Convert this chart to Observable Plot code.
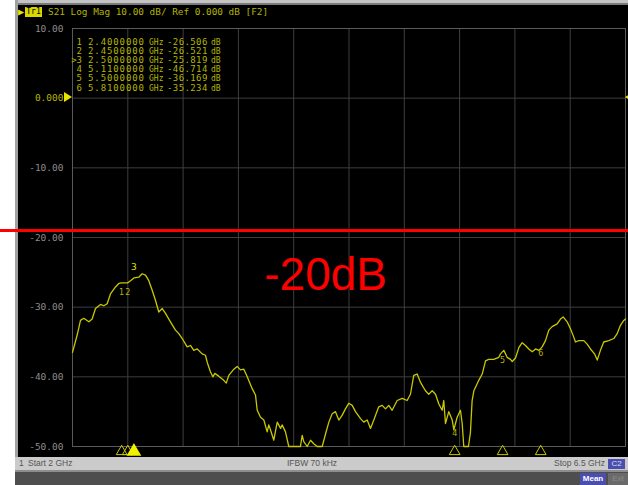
<!DOCTYPE html>
<html><head><meta charset="utf-8">
<script src="https://cdn.jsdelivr.net/npm/d3@7"></script>
<script src="https://cdn.jsdelivr.net/npm/@observablehq/plot@0.6"></script>
<style>
body{margin:0;background:#fff;}
#wrap{position:relative;width:628px;height:485px;overflow:hidden;background:#fff;}
.abs{position:absolute;white-space:pre;}
.mono{font-family:"DejaVu Sans Mono",monospace;}
.sans{font-family:"Liberation Sans",Arial,sans-serif;}
</style></head><body>
<div id="wrap">
  <div class="abs" style="left:15px;top:0;width:613px;height:3px;background:#c4c4c4"></div>
  <div class="abs" style="left:15px;top:3px;width:613px;height:2px;background:#7a7a7a"></div>
  <div class="abs" style="left:15px;top:0;width:3px;height:457px;background:#a0a0a0"></div>
  <div class="abs" style="left:18px;top:5px;width:610px;height:452px;background:#000"></div>
  <div id="title"></div>
  <div id="table"></div>
  <div class="abs" style="left:15px;top:457px;width:613px;height:13px;background:#cbcbcb"></div>
  <div class="abs" style="left:15px;top:470px;width:613px;height:2px;background:#8e8e8e"></div>
  <div class="abs" style="left:15px;top:472px;width:613px;height:13px;background:#4e4e4e"></div>
  <div id="status"></div>
</div>
<script>
// ---- data ----
const xTicks = [2.45, 2.9, 3.35, 3.8, 4.25, 4.7, 5.15, 5.6, 6.05];
const yTicks = [10, 0, -10, -20, -30, -40, -50];
const yTickLabels = ["10.00", "0.000", "-10.00", "-20.00", "-30.00", "-40.00", "-50.00"];
const refLevel = 0;
const redLevel = -19.1;
const annotText = ["-20dB"];
const annotPos = [[4.06, -25.4]];

const markerIds = ["1", "2", "3", "4", "5", "6"];
const markerFreq = [2.4, 2.45, 2.5, 5.11, 5.5, 5.81];
const markerVal = [-26.506, -26.521, -25.819, -46.714, -36.169, -35.234];
const markerFreqText = ["2.4000000", "2.4500000", "2.5000000", "5.1100000", "5.5000000", "5.8100000"];
const markerValText = ["-26.506", "-26.521", "-25.819", "-46.714", "-36.169", "-35.234"];
const activeMarker = "3";

const titleText = "S21 Log Mag 10.00 dB/ Ref 0.000 dB [F2]";
const traceName = "Tr1";
const statusLeft = "Start 2 GHz";
const statusMid = "IFBW 70 kHz";
const statusRight = "Stop 6.5 GHz";
const channel = "C2";

// trace: [frequency GHz, S21 dB]
const trace = [
 [2.0,-36.5],[2.038,-34.0],[2.065,-31.9],[2.092,-31.6],[2.133,-32.1],[2.160,-31.7],[2.187,-30.2],
 [2.228,-29.6],[2.255,-29.8],[2.282,-29.5],[2.309,-28.1],[2.350,-27.1],[2.377,-26.6],[2.400,-26.5],
 [2.450,-26.5],[2.472,-26.2],[2.500,-25.8],[2.539,-25.7],[2.567,-25.2],[2.594,-25.4],[2.621,-26.2],
 [2.649,-27.6],[2.675,-29.0],[2.702,-30.7],[2.730,-30.2],[2.757,-30.9],[2.797,-32.1],[2.838,-33.3],
 [2.865,-33.8],[2.893,-34.5],[2.933,-35.7],[2.960,-35.5],[2.987,-36.2],[3.015,-36.0],[3.055,-36.7],
 [3.082,-36.9],[3.096,-37.9],[3.123,-39.3],[3.142,-40.0],[3.158,-39.5],[3.190,-39.9],[3.231,-40.5],
 [3.251,-40.9],[3.272,-39.8],[3.313,-38.9],[3.340,-38.5],[3.367,-39.0],[3.394,-38.9],[3.422,-40.0],
 [3.462,-41.7],[3.489,-42.6],[3.503,-44.8],[3.530,-45.8],[3.557,-46.2],[3.584,-47.9],[3.597,-46.9],
 [3.611,-47.6],[3.638,-49.1],[3.666,-46.5],[3.693,-47.4],[3.706,-46.9],[3.733,-47.9],[3.760,-50],
 [3.815,-50],[3.855,-50],[3.869,-48.4],[3.882,-49.3],[3.910,-50],[3.937,-49.1],[3.963,-49.6],
 [3.991,-50],[4.032,-50],[4.059,-48.2],[4.086,-46.5],[4.113,-45.3],[4.140,-45.0],[4.167,-46.2],
 [4.195,-45.5],[4.221,-44.6],[4.248,-43.8],[4.276,-44.1],[4.303,-45.0],[4.344,-46.0],[4.370,-46.5],
 [4.398,-46.2],[4.425,-47.4],[4.452,-46.2],[4.492,-44.3],[4.520,-44.1],[4.547,-44.6],[4.574,-44.1],
 [4.601,-44.8],[4.642,-43.4],[4.683,-43.1],[4.723,-43.4],[4.750,-42.5],[4.777,-39.8],[4.805,-39.6],
 [4.832,-40.8],[4.872,-42.0],[4.899,-42.5],[4.927,-42.0],[4.954,-42.5],[4.981,-43.9],[5.008,-44.8],
 [5.021,-43.4],[5.035,-46.7],[5.062,-45.0],[5.090,-46.2],[5.103,-47.6],[5.130,-45.8],[5.157,-44.8],
 [5.171,-46.7],[5.184,-50],[5.222,-50],[5.238,-48.0],[5.252,-43.4],[5.266,-42.0],[5.293,-41.0],
 [5.306,-40.5],[5.334,-39.6],[5.361,-37.7],[5.387,-37.5],[5.428,-37.5],[5.469,-37.2],[5.483,-36.7],
 [5.510,-36.2],[5.537,-37.2],[5.564,-37.5],[5.578,-37.8],[5.605,-37.3],[5.632,-35.8],[5.659,-35.1],
 [5.686,-35.5],[5.713,-36.0],[5.741,-36.4],[5.768,-36.0],[5.795,-36.2],[5.822,-35.7],[5.849,-34.8],
 [5.876,-33.3],[5.903,-32.8],[5.944,-32.4],[5.971,-31.7],[5.993,-31.4],[6.025,-32.1],[6.052,-33.1],
 [6.079,-34.3],[6.093,-35.0],[6.120,-34.8],[6.161,-34.8],[6.188,-35.3],[6.215,-36.0],[6.248,-36.7],
 [6.270,-37.6],[6.296,-36.2],[6.323,-35.0],[6.364,-34.8],[6.405,-34.5],[6.432,-33.8],[6.459,-32.6],
 [6.486,-31.9],[6.5,-31.7]
];

// ---- build ----
const Y = "#c8c800", TXT = "#b4b400", GREY = "#8c8c8c";
const traceData = trace.map(([f, db]) => ({f, db}));
const markers = markerIds.map((id, i) => ({id, f: markerFreq[i], db: markerVal[i]}));
const annot = annotText.map((t, i) => ({t, f: annotPos[i][0], db: annotPos[i][1]}));
const labelData = yTicks.map((v, i) => ({v, t: yTickLabels[i]}));

const plot = Plot.plot({
  width: 628, height: 485,
  marginLeft: 72, marginRight: 3, marginTop: 28, marginBottom: 39,
  x: {domain: [2, 6.5], axis: null},
  y: {domain: [-50, 10], axis: null},
  style: {background: "transparent", overflow: "visible", position: "absolute", left: "0px", top: "0px"},
  marks: [
    Plot.gridX(xTicks, {stroke: "#3e3e3e", strokeOpacity: 1}),
    Plot.gridY(yTicks, {stroke: "#3e3e3e", strokeOpacity: 1}),
    Plot.frame({stroke: "#5a5a5a"}),
    Plot.text(labelData.filter(d => d.v !== refLevel), {frameAnchor: "left", y: "v", text: "t", dx: -9, textAnchor: "end", fill: GREY, fontSize: 9.5, fontFamily: "DejaVu Sans Mono"}),
    Plot.text(labelData.filter(d => d.v === refLevel), {frameAnchor: "left", y: "v", text: "t", dx: -9, textAnchor: "end", fill: TXT, fontSize: 9.5, fontFamily: "DejaVu Sans Mono"}),
    Plot.line(traceData, {x: "f", y: "db", stroke: Y, strokeWidth: 1.3}),
    Plot.text(markers.filter(d => d.id !== activeMarker), {x: "f", y: "db", text: "id", dy: 10, fill: TXT, fontSize: 8, fontFamily: "DejaVu Sans"}),
    Plot.text(markers.filter(d => d.id === activeMarker), {x: "f", y: "db", text: "id", dy: -11, fill: "#e0e000", fontSize: 9, fontFamily: "DejaVu Sans"}),
    Plot.dot(markers.filter(d => d.id !== activeMarker), {x: "f", frameAnchor: "bottom", dy: 5, symbol: "triangle", r: 4, stroke: Y, fill: "none", strokeWidth: 1}),
    Plot.dot(markers.filter(d => d.id === activeMarker), {x: "f", frameAnchor: "bottom", dy: 5, symbol: "triangle", r: 4.5, stroke: "#f0f000", fill: "#f0f000"}),
    Plot.text(annot, {x: "f", y: "db", text: "t", fill: "#ff0000", fontSize: 46, fontFamily: "Liberation Sans"})
  ]
});
const wrap = document.getElementById("wrap");
wrap.insertBefore(plot, document.getElementById("title"));

const ys = plot.scale("y"), xs = plot.scale("x");
// reference level triangles (left and right edges)
const refY = ys.apply(refLevel);
const triL = document.createElement("div");
triL.className = "abs";
triL.style.cssText = `left:${xs.apply(2) - 8}px;top:${refY - 5.5}px;width:0;height:0;border-top:5.5px solid transparent;border-bottom:5.5px solid transparent;border-left:8px solid #e6e600;`;
wrap.appendChild(triL);
const triR = document.createElement("div");
triR.className = "abs";
triR.style.cssText = `left:${xs.apply(6.5)}px;top:${refY - 5.5}px;width:0;height:0;border-top:5.5px solid transparent;border-bottom:5.5px solid transparent;border-right:8px solid #e6e600;`;
wrap.appendChild(triR);

// red level line through the whole picture
const ry = ys.apply(redLevel);
const red = document.createElement("div");
red.className = "abs";
red.style.cssText = `left:0;top:${ry - 1.5}px;width:628px;height:3px;background:#ff0000;`;
wrap.appendChild(red);

// title row
document.getElementById("title").innerHTML =
  `<div class="abs mono" style="left:18px;top:6px;font-size:10px;color:#e6e600;line-height:12px">\u25B6</div>` +
  `<div class="abs mono" style="left:25px;top:7px;width:17px;height:10px;background:#d8d800;color:#000;font-size:8px;line-height:10px;text-align:center">${traceName}</div>` +
  `<div class="abs mono" style="left:48px;top:6px;font-size:9.4px;line-height:12px;color:${TXT}">${titleText}</div>`;

// marker table
let html = "";
markerIds.forEach((id, i) => {
  const top = 38 + i * 9.1;
  const idTxt = (id === activeMarker ? ">" : "") + id;
  html += `<div class="abs mono" style="left:58px;width:24px;text-align:right;top:${top}px;font-size:9px;line-height:9px;color:${TXT}">${idTxt}</div>`;
  html += `<div class="abs mono" style="left:88px;top:${top}px;font-size:9px;line-height:9px;letter-spacing:0.9px;color:${TXT}">${markerFreqText[i]}</div>`;
  html += `<div class="abs mono" style="left:149px;top:${top}px;font-size:8px;line-height:9px;color:${TXT}">GHz</div>`;
  html += `<div class="abs mono" style="left:167px;top:${top}px;font-size:9px;line-height:9px;letter-spacing:0.4px;color:${TXT}">${markerValText[i]}</div>`;
  html += `<div class="abs mono" style="left:211px;top:${top}px;font-size:8px;line-height:9px;color:${TXT}">dB</div>`;
});
document.getElementById("table").innerHTML = html;

// status bars
document.getElementById("status").innerHTML =
  `<div class="abs sans" style="left:19px;top:458px;font-size:8.5px;line-height:11px;color:#555">1</div>` +
  `<div class="abs sans" style="left:28px;top:458px;font-size:8.5px;line-height:11px;color:#555">${statusLeft}</div>` +
  `<div class="abs sans" style="left:262px;width:100px;text-align:center;top:458px;font-size:8.5px;line-height:11px;color:#555">${statusMid}</div>` +
  `<div class="abs sans" style="left:505px;width:100px;text-align:right;top:458px;font-size:8.5px;line-height:11px;color:#555">${statusRight}</div>` +
  `<div class="abs sans" style="left:608px;top:459px;width:17px;height:10px;background:#4a4eb0;color:#dde;font-size:8px;line-height:10px;text-align:center">${channel}</div>` +
  `<div class="abs sans" style="left:580px;top:473px;width:26px;height:12px;background:#4a4eb0;color:#fff;font-size:8px;line-height:12px;text-align:center;font-weight:bold">Mean</div>` +
  `<div class="abs sans" style="left:608px;top:473px;width:20px;height:12px;background:#6a6a6a;color:#8a8a8a;font-size:8px;line-height:12px;text-align:center">Ext</div>`;
</script>
</body></html>
